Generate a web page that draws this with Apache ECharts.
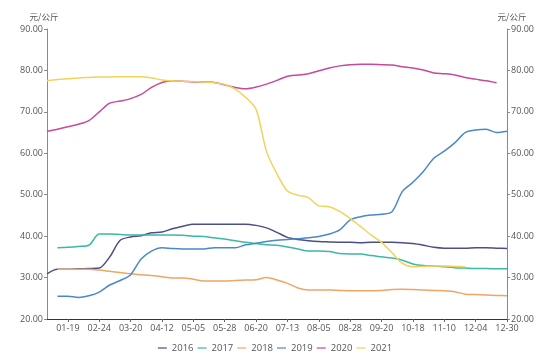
<!DOCTYPE html>
<html><head><meta charset="utf-8">
<script src="https://cdn.jsdelivr.net/npm/echarts@6/dist/echarts.min.js"></script>
<style>html,body{margin:0;padding:0;background:#fff}#c{width:550px;height:361px}</style>
</head><body><div id="c"></div>
<script>
var categories = ['01-04','01-11','01-19','01-31','02-12','02-24','03-04','03-12','03-20','03-28','04-05','04-12','04-20','04-27','05-05','05-13','05-20','05-28','06-04','06-12','06-20','06-28','07-05','07-13','07-21','07-28','08-05','08-13','08-20','08-28','09-05','09-12','09-20','09-29','10-09','10-18','10-26','11-02','11-10','11-18','11-26','12-04','12-12','12-20','12-30'];
var tickLabels = ['01-19','02-24','03-20','04-12','05-05','05-28','06-20','07-13','08-05','08-28','09-20','10-18','11-10','12-04','12-30'];
var seriesNames = ['2016','2017','2018','2019','2020','2021'];
var s2016 = [30.9,32,32,32.1,32.2,32.3,35,39,39.8,40.1,40.8,41,41.8,42.4,42.9,42.9,42.9,42.9,42.9,42.9,42.6,42,40.9,39.7,39.2,38.9,38.7,38.6,38.5,38.5,38.4,38.5,38.5,38.5,38.4,38.2,37.8,37.3,37.1,37.1,37.1,37.2,37.2,37.1,37.0];
var s2017 = [null,37.2,37.3,37.5,37.8,40.5,40.5,40.4,40.3,40.3,40.3,40.3,40.3,40.2,40.0,39.9,39.6,39.3,38.9,38.5,38.2,37.9,37.8,37.4,36.9,36.4,36.4,36.3,35.8,35.7,35.7,35.3,35.0,34.7,34.2,33.3,32.9,32.8,32.6,32.4,32.3,32.2,32.2,32.1,32.1];
var s2018 = [null,32.0,32.0,32.0,32.0,31.8,31.5,31.2,30.9,30.7,30.5,30.2,29.9,29.9,29.6,29.2,29.2,29.2,29.3,29.4,29.5,30.0,29.4,28.6,27.5,27.0,27.0,27.0,26.9,26.8,26.8,26.8,26.9,27.1,27.2,27.1,27.0,26.9,26.8,26.6,26.0,25.9,25.8,25.7,25.6];
var s2019 = [null,25.5,25.5,25.2,25.6,26.5,28.2,29.3,30.7,34.5,36.4,37.2,37.0,36.9,36.9,36.9,37.2,37.2,37.2,37.9,38.3,38.7,39.0,39.2,39.4,39.6,39.9,40.5,41.5,43.9,44.7,45.1,45.3,45.9,50.8,53.0,55.6,58.8,60.5,62.5,65.0,65.6,65.8,65.0,65.3];
var s2020 = [65.3,65.8,66.4,67.0,67.9,70.0,72.1,72.6,73.2,74.2,75.9,77.1,77.5,77.4,77.2,77.2,77.1,76.5,75.9,75.6,76.0,76.7,77.6,78.6,78.9,79.2,79.9,80.6,81.1,81.4,81.5,81.5,81.4,81.3,80.9,80.6,80.1,79.4,79.2,78.9,78.3,77.9,77.5,77.0,null];
var s2021 = [77.5,77.8,78.0,78.2,78.3,78.4,78.4,78.5,78.5,78.5,78.2,77.7,77.5,77.4,77.3,77.2,77.0,76.6,75.5,73.5,70.6,60.4,55.0,50.9,49.9,49.3,47.3,47.1,46.0,44.3,42.3,40.3,38.5,36.0,33.4,32.6,32.7,32.8,32.8,32.7,32.6,null,null,null,null];
var colors = ['#4b4f85','#3bb8a6','#eea565','#4a89c8','#c8489a','#f2d35a'];
var allData = [s2016,s2017,s2018,s2019,s2020,s2021];

var showTick = function (i) { return tickLabels.indexOf(categories[i]) >= 0; };
var font = 'Open Sans';
var yAxisBase = function (pos) {
  return {
    type: 'value', position: pos, min: 20, max: 90, interval: 10,
    name: '元/公斤', nameLocation: 'end', nameGap: 8,
    nameTextStyle: { color: '#555', fontSize: 8.5, fontFamily: 'Noto Sans CJK SC', padding: pos === 'left' ? [0, 6, 0, 0] : [0, 0, 0, 10] },
    axisLine: { show: true, lineStyle: { color: '#8a8a8a', width: 1 } },
    axisTick: { show: true, length: 3, lineStyle: { color: '#8a8a8a' } },
    splitLine: { show: false },
    axisLabel: { color: '#555', fontSize: 9, fontFamily: font, margin: 4, formatter: function (v) { return v.toFixed(2); } }
  };
};
var chart = echarts.init(document.getElementById('c'));
chart.setOption({
  animation: false,
  color: colors,
  grid: { left: 47, right: 43, top: 29, bottom: 42 },
  legend: {
    data: seriesNames, top: 338, left: 'center',
    icon: 'rect', itemWidth: 9, itemHeight: 1.2, itemGap: 4,
    textStyle: { color: '#555', fontSize: 9.5, fontFamily: font }
  },
  xAxis: {
    type: 'category', data: categories, boundaryGap: false,
    axisLine: { lineStyle: { color: '#333', width: 1 } },
    axisTick: { show: true, length: 3, interval: showTick, lineStyle: { color: '#666' } },
    axisLabel: { interval: showTick, color: '#555', fontSize: 9, fontFamily: font, margin: 5 }
  },
  yAxis: [yAxisBase('left'), yAxisBase('right')],
  series: seriesNames.map(function (n, k) {
    return {
      name: n, type: 'line', yAxisIndex: 0, data: allData[k],
      showSymbol: false, symbol: 'none', smooth: 0.3,
      lineStyle: { width: 1.5, color: colors[k] }
    };
  })
});
</script></body></html>
